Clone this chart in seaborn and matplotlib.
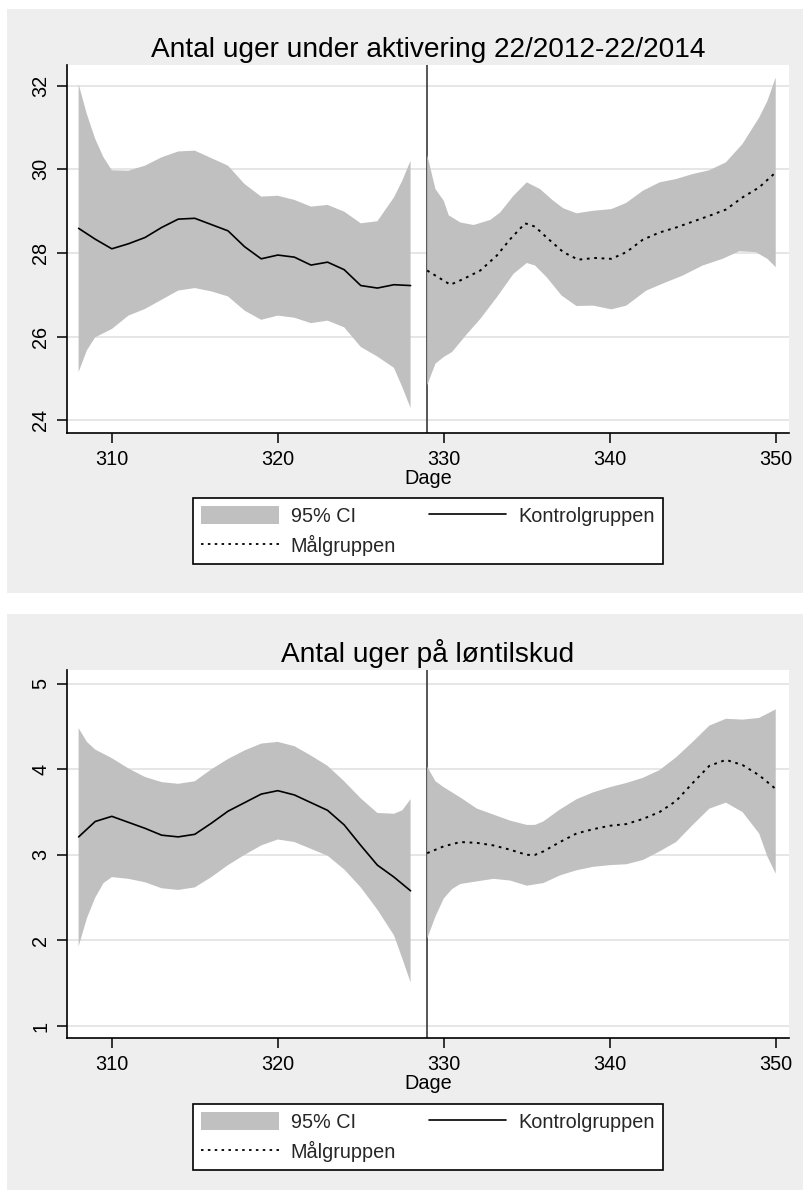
import matplotlib
matplotlib.use("Agg")
import matplotlib.pyplot as plt
import seaborn as sns
import numpy as np
from matplotlib.patches import Rectangle, Patch
from matplotlib.lines import Line2D

# ---------------- data ----------------
days_k = [308, 309, 310, 311, 312, 313, 314, 315, 316, 317, 318,
          319, 320, 321, 322, 323, 324, 325, 326, 327, 328]

# Panel 1: Antal uger under aktivering
p1_k_y = [28.59, 28.33, 28.10, 28.22, 28.37, 28.61, 28.81, 28.83, 28.68, 28.53, 28.15,
          27.86, 27.95, 27.90, 27.71, 27.78, 27.60, 27.22, 27.16, 27.24, 27.22]
p1_k_up_x = [308, 308.5, 309, 309.5, 310, 311, 312, 313, 314, 315, 316, 317, 318,
             319, 320, 321, 322, 323, 324, 325, 326, 327, 327.5, 328]
p1_k_up = [32.04, 31.32, 30.73, 30.29, 29.98, 29.97, 30.09, 30.29, 30.43, 30.45, 30.27, 30.09, 29.65,
           29.35, 29.37, 29.27, 29.11, 29.15, 28.99, 28.71, 28.76, 29.33, 29.73, 30.21]
p1_k_lo_x = [308, 308.5, 309, 310, 311, 312, 313, 314, 315, 316, 317, 318,
             319, 320, 321, 322, 323, 324, 325, 326, 327, 327.5, 328]
p1_k_lo = [25.15, 25.67, 25.98, 26.18, 26.50, 26.66, 26.88, 27.10, 27.16, 27.08, 26.96, 26.62,
           26.40, 26.50, 26.45, 26.32, 26.38, 26.22, 25.75, 25.52, 25.25, 24.79, 24.29]

p1_m_x = [329, 330.4, 331.2, 332.2, 333.2, 334, 334.9, 335.5, 336.2, 337.2, 338.1, 339.1, 340.1,
          341, 342, 343, 344, 345, 346, 347, 348, 349, 350]
p1_m_y = [27.58, 27.24, 27.38, 27.58, 27.94, 28.33, 28.71, 28.63, 28.37, 28.02, 27.84, 27.88, 27.86,
          28.02, 28.32, 28.49, 28.61, 28.75, 28.89, 29.04, 29.33, 29.57, 29.93]
p1_m_up_x = [329, 329.5, 330, 330.3, 331, 331.8, 332.8, 333.4, 334.2, 335, 335.8, 336.6, 337.2,
             338, 339, 340.1, 341, 342, 343, 344, 345, 346, 347, 348, 349, 349.5, 350]
p1_m_up = [30.35, 29.53, 29.25, 28.90, 28.73, 28.67, 28.79, 28.97, 29.37, 29.69, 29.53, 29.25, 29.07,
           28.95, 29.01, 29.05, 29.20, 29.49, 29.69, 29.77, 29.89, 29.98, 30.17, 30.61, 31.24, 31.64, 32.20]
p1_m_lo_x = [329, 329.5, 330, 330.5, 331.4, 332.2, 333.2, 334.2, 335, 335.5, 336.2, 337.1, 338,
             339, 340.1, 341, 342.2, 343.4, 344.4, 345.6, 346.8, 347.8, 348.8, 349.5, 350]
p1_m_lo = [24.83, 25.35, 25.51, 25.63, 26.06, 26.42, 26.94, 27.50, 27.76, 27.70, 27.42, 26.98, 26.73,
           26.74, 26.65, 26.74, 27.10, 27.30, 27.46, 27.70, 27.86, 28.04, 28.02, 27.86, 27.66]

# Panel 2: Antal uger på løntilskud
p2_k_y = [3.21, 3.39, 3.45, 3.38, 3.31, 3.23, 3.21, 3.24, 3.37, 3.51, 3.61,
          3.71, 3.75, 3.70, 3.61, 3.52, 3.35, 3.11, 2.88, 2.74, 2.58]
p2_k_up_x = [308, 308.5, 309, 310, 311, 312, 313, 314, 315, 316, 317, 318,
             319, 320, 321, 322, 323, 324, 325, 326, 327, 327.5, 328]
p2_k_up = [4.48, 4.32, 4.23, 4.13, 4.01, 3.91, 3.85, 3.83, 3.86, 4.00, 4.12, 4.22,
           4.30, 4.32, 4.27, 4.16, 4.04, 3.86, 3.66, 3.49, 3.48, 3.52, 3.65]
p2_k_lo_x = [308, 308.5, 309, 309.5, 310, 311, 312, 313, 314, 315, 316, 317, 318,
             319, 320, 321, 322, 323, 324, 325, 326, 327, 327.5, 328]
p2_k_lo = [1.93, 2.26, 2.50, 2.67, 2.74, 2.72, 2.68, 2.61, 2.59, 2.62, 2.74, 2.88, 3.00,
           3.11, 3.18, 3.15, 3.07, 2.99, 2.83, 2.62, 2.36, 2.06, 1.79, 1.51]

p2_m_x = [329, 330, 331, 332, 333, 334, 335, 335.5, 336, 337, 338, 339, 340,
          341, 342, 343, 344, 345, 346, 347, 348, 349, 350]
p2_m_y = [3.02, 3.10, 3.15, 3.14, 3.11, 3.06, 3.00, 3.00, 3.04, 3.15, 3.25, 3.30, 3.34,
          3.36, 3.42, 3.50, 3.63, 3.84, 4.04, 4.11, 4.05, 3.93, 3.77]
p2_m_up_x = [329, 329.5, 330, 331, 332, 333, 334, 335, 335.5, 336, 337, 338, 339, 340,
             341, 342, 343, 344, 345, 346, 347, 348, 349, 350]
p2_m_up = [4.03, 3.86, 3.79, 3.67, 3.54, 3.47, 3.40, 3.35, 3.35, 3.39, 3.53, 3.65, 3.73, 3.79,
           3.84, 3.90, 3.99, 4.14, 4.32, 4.51, 4.59, 4.58, 4.60, 4.70]
p2_m_lo_x = [329, 329.5, 330, 330.5, 331, 332, 333, 334, 335, 336, 337, 338, 339, 340,
             341, 342, 343, 344, 345, 346, 347, 348, 349, 349.5, 350]
p2_m_lo = [2.02, 2.28, 2.49, 2.60, 2.66, 2.69, 2.72, 2.70, 2.64, 2.67, 2.76, 2.82, 2.86, 2.88,
           2.89, 2.94, 3.04, 3.15, 3.35, 3.54, 3.61, 3.50, 3.25, 2.98, 2.78]

titles = ["Antal uger under aktivering 22/2012-22/2014", "Antal uger på løntilskud"]
x_ticks = [310, 320, 330, 340, 350]
y_ticks_1 = [24, 26, 28, 30, 32]
y_ticks_2 = [1, 2, 3, 4, 5]
cutoff_day = 329
legend_labels = ["95% CI", "Målgruppen", "Kontrolgruppen"]
x_label = "Dage"

# ---------------- styling ----------------
sns.set_theme(style="white")
plt.rcParams["font.family"] = ["Liberation Sans", "DejaVu Sans"]

W, H = 804, 1191
fig = plt.figure(figsize=(W / 100, H / 100), dpi=100)
fig.patch.set_facecolor("white")

BAND = "#C0C0C0"
BG = "#EEEEEE"
DOT = (0, (1.4, 2.4))
FS = 14.3


def fx(px):
    return px / W


def fy(py):
    return 1 - py / H


panels = [
    dict(bg=(7, 9, 804, 593), axbox=(67, 65, 789, 433), leg_top=498,
         title=titles[0], ylim=(23.69, 32.5), yticks=y_ticks_1,
         k=(days_k, p1_k_y, p1_k_up_x, p1_k_up, p1_k_lo_x, p1_k_lo),
         m=(p1_m_x, p1_m_y, p1_m_up_x, p1_m_up, p1_m_lo_x, p1_m_lo)),
    dict(bg=(7, 614, 804, 1190), axbox=(67, 670, 789, 1038), leg_top=1104,
         title=titles[1], ylim=(0.86, 5.16), yticks=y_ticks_2,
         k=(days_k, p2_k_y, p2_k_up_x, p2_k_up, p2_k_lo_x, p2_k_lo),
         m=(p2_m_x, p2_m_y, p2_m_up_x, p2_m_up, p2_m_lo_x, p2_m_lo)),
]

for p in panels:
    x0, y0, x1, y1 = p["bg"]
    fig.add_artist(Rectangle((fx(x0), fy(y1)), (x1 - x0) / W, (y1 - y0) / H,
                             transform=fig.transFigure, facecolor=BG,
                             edgecolor="none", zorder=-5))
    a0, b0, a1, b1 = p["axbox"]
    ax = fig.add_axes([fx(a0), fy(b1), (a1 - a0) / W, (b1 - b0) / H])
    ax.set_facecolor("white")

    for yt in p["yticks"]:
        ax.axhline(yt, color="#E4E4E4", lw=1.3, zorder=0.5)
    ax.axvline(cutoff_day, color="#3a3a3a", lw=1.2, zorder=1)

    for grp, ls, lw in ((p["k"], "-", 1.2), (p["m"], DOT, 1.4)):
        lx, ly, ux, uy, dx, dy = grp
        ax.fill(np.r_[ux, dx[::-1]], np.r_[uy, dy[::-1]], color=BAND, lw=0, zorder=2)
        sns.lineplot(x=lx, y=ly, ax=ax, color="black", lw=lw, zorder=3,
                     estimator=None, sort=False, legend=False)
        ax.lines[-1].set_linestyle(ls)

    ax.set_xlim(307.3, 350.8)
    ax.set_ylim(*p["ylim"])
    ax.set_xticks(x_ticks)
    ax.set_yticks(p["yticks"])
    ax.grid(False)
    for s in ("top", "right"):
        ax.spines[s].set_visible(False)
    for s in ("left", "bottom"):
        ax.spines[s].set_color("black")
        ax.spines[s].set_linewidth(1.2)
    ax.tick_params(axis="both", direction="out", length=7, width=1.1,
                   color="black", labelsize=FS, labelcolor="black",
                   left=True, bottom=True)
    ax.tick_params(axis="x", pad=5)
    ax.tick_params(axis="y", pad=5)
    for lab in ax.get_yticklabels():
        lab.set_rotation(90)
        lab.set_va("center")
    ax.set_xlabel(x_label, fontsize=FS, labelpad=0, color="black")
    ax.set_ylabel("")
    ax.set_title(p["title"], fontsize=20.2, pad=6, color="black")

    handles = [Patch(facecolor=BAND, edgecolor="none"),
               Line2D([], [], color="black", ls=DOT, lw=1.3),
               Line2D([], [], color="black", lw=1.2)]
    leg = fig.legend(handles, legend_labels, ncol=2, loc="upper center",
                     bbox_to_anchor=(fx(428), fy(p["leg_top"])),
                     bbox_transform=fig.transFigure,
                     frameon=True, fancybox=False, edgecolor="black",
                     facecolor="white", framealpha=1, fontsize=FS,
                     handlelength=3.9, handleheight=1.05, handletextpad=0.6,
                     columnspacing=1.65, borderpad=0.4, labelspacing=0.45,
                     borderaxespad=0)
    leg.get_frame().set_linewidth(1.2)

fig.savefig("out.png", dpi=100, facecolor="white")
